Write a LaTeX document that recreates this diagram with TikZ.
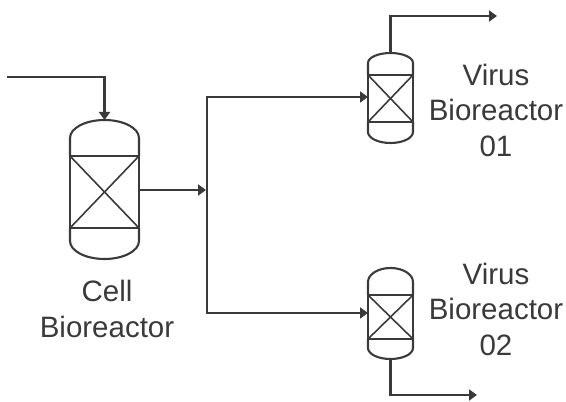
\documentclass[tikz,border=0pt]{standalone}
\usepackage{fontspec}
\setmainfont{Liberation Sans}
\usetikzlibrary{arrows.meta}

\definecolor{linegray}{HTML}{3A3A3A}

\tikzset{
  flow/.style={draw=linegray,line width=2.1pt,-{Triangle[length=8pt,width=11pt]}},
  packing/.style={draw=linegray,line width=2.1pt,inner sep=0pt,outer sep=0pt},
  wall/.style={draw=linegray,line width=2.1pt,line cap=round,line join=round},
  label/.style={align=center,text=linegray,font=\fontsize{29.5}{35.5}\selectfont}
}

% name, x, y, width, height, top wall, top head, bottom wall, bottom head
\newcommand{\vessel}[9]{
  \node[packing,minimum width=#4pt,minimum height=#5pt] (#1) at (#2,#3) {};
  \draw[wall,line width=1.6pt] (#1.south west) -- (#1.north east);
  \draw[wall,line width=1.6pt] (#1.north west) -- (#1.south east);
  \draw[wall] (#1.north west) -- ++(0,#6pt) arc[start angle=180,end angle=0,x radius=#4pt/2,y radius=#7pt] -- (#1.north east);
  \draw[wall] (#1.south west) -- ++(0,-#8pt) arc[start angle=180,end angle=360,x radius=#4pt/2,y radius=#9pt] -- (#1.south east);
  \coordinate (#1top) at ([yshift=#6pt+#7pt]#1.north);
  \coordinate (#1bottom) at ([yshift=-#8pt-#9pt]#1.south);
}

\begin{document}
\begin{tikzpicture}[x=1pt,y=1pt]
  \useasboundingbox (0,0) rectangle (566,402);

  \vessel{cell}{104.5}{210}{69}{72}{18}{18}{13}{18}
  \vessel{virusa}{390.5}{303.5}{45}{47}{12}{10}{10}{11}
  \vessel{virusb}{390.5}{85}{45}{44}{13}{14}{9}{11}

  \coordinate (feed) at (7,325);
  \coordinate (tee) at (207,212);
  \coordinate (virusain) at (368,305);
  \coordinate (virusbin) at (368,89);
  \coordinate (virusaout) at (497,386);
  \coordinate (virusbout) at (477,7);

  \draw[flow] (feed) -| (celltop);
  \draw[flow,shorten >=1pt] (cell.east |- tee) -- (tee);
  \draw[flow] (tee) |- (virusain);
  \draw[flow] (tee) |- (virusbin);
  \draw[flow] (virusatop) |- (virusaout);
  \draw[flow] (virusbbottom) |- (virusbout);

  \node[label] (celllabel) at (107,93) {Cell\\Bioreactor};
  \node[label] (virusalabel) at (496,292) {Virus\\Bioreactor\\01};
  \node[label] (virusblabel) at (496,93) {Virus\\Bioreactor\\02};
\end{tikzpicture}
\end{document}
